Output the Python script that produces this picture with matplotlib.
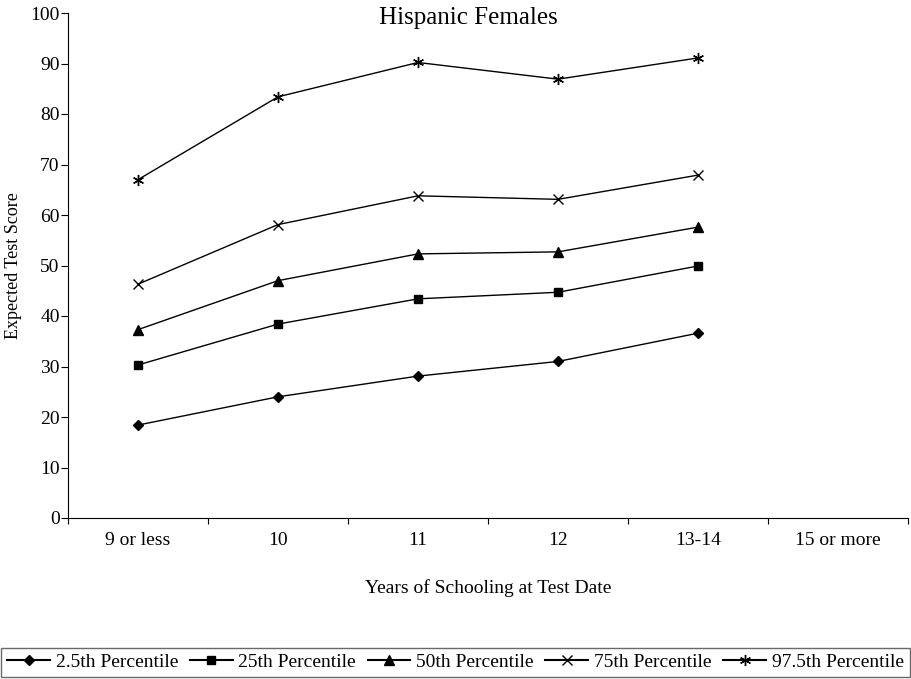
import matplotlib
matplotlib.use('Agg')
import matplotlib.pyplot as plt
from matplotlib.lines import Line2D

categories = ['9 or less', '10', '11', '12', '13-14', '15 or more']
p2_5 = [18.4, 24.0, 28.1, 31.0, 36.6]
p25 = [30.3, 38.4, 43.4, 44.7, 49.9]
p50 = [37.3, 47.0, 52.3, 52.7, 57.6]
p75 = [46.3, 58.1, 63.8, 63.1, 67.9]
p97_5 = [67.0, 83.4, 90.2, 86.9, 91.1]
series_names = ['2.5th Percentile', '25th Percentile', '50th Percentile',
                '75th Percentile', '97.5th Percentile']


def main():
    plt.rcParams['font.family'] = ['Liberation Serif', 'DejaVu Serif']
    fig = plt.figure(figsize=(9.11, 6.79), dpi=100)
    ax = fig.add_axes([68 / 911, 1 - 518 / 679, 840 / 911, 505 / 679])

    markers = ['D', 's', '^', 'x', (6, 2, 0)]
    sizes = [5, 6, 7, 7, 8]
    xs = list(range(len(p2_5)))
    handles = []
    for vals, m, s, name in zip([p2_5, p25, p50, p75, p97_5], markers, sizes, series_names):
        ax.plot(xs, vals, color='black', linewidth=1.0, marker=m, markersize=s,
                markeredgewidth=1.0, markerfacecolor='black', markeredgecolor='black')
        handles.append(Line2D([], [], color='black', linewidth=1.5, marker=m, markersize=s,
                              markerfacecolor='black', markeredgecolor='black', label=name))

    ax.set_xlim(-0.5, len(categories) - 0.5)
    ax.set_ylim(0, 100)
    ax.set_yticks(range(0, 101, 10))
    ax.set_xticks([i - 0.5 for i in range(len(categories) + 1)])
    ax.set_xticklabels([])
    ax.set_xticks(range(len(categories)), minor=True)
    ax.set_xticklabels(categories, minor=True, fontsize=14)
    ax.tick_params(axis='x', which='minor', length=0, pad=10)
    ax.tick_params(axis='x', which='major', direction='out', length=4)
    ax.tick_params(axis='y', direction='out', length=5, labelsize=14, pad=1)
    ax.spines['right'].set_visible(False)
    ax.spines['top'].set_visible(False)

    ax.set_ylabel('Expected Test Score', fontsize=13, labelpad=6)
    ax.set_xlabel('Years of Schooling at Test Date', fontsize=14, labelpad=22)
    ax.text(0.477, 0.99, 'Hispanic Females', transform=ax.transAxes, ha='center',
            va='center', fontsize=18)

    leg = fig.legend(handles=handles, loc='lower center', ncol=5, fontsize=14,
                     bbox_to_anchor=(0.5, 0.0), frameon=True, fancybox=False,
                     handlelength=2.2, handletextpad=0.3, columnspacing=0.6,
                     borderpad=0.3, borderaxespad=0.1)
    leg.get_frame().set_edgecolor('#444444')
    leg.get_frame().set_linewidth(1.0)

    fig.savefig('out.png', dpi=100)


if __name__ == '__main__':
    main()
